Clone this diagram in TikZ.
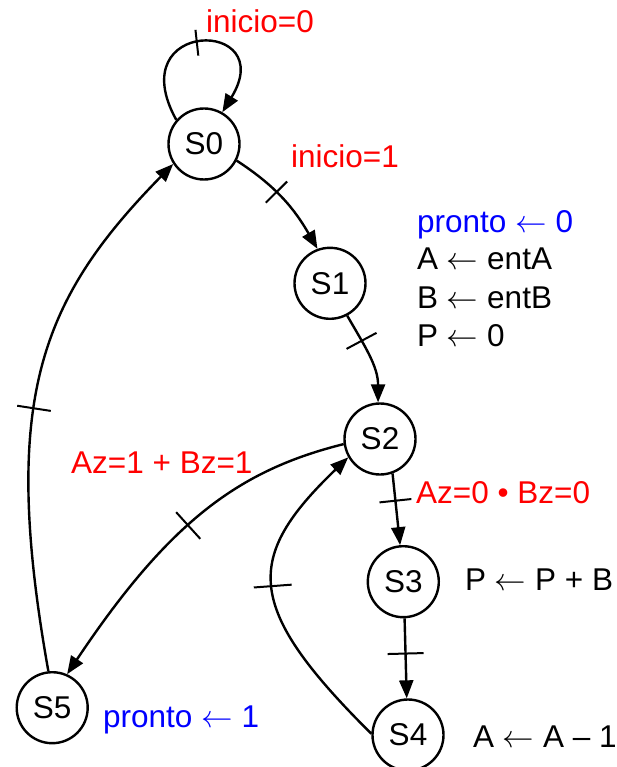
\RequirePackage{fix-cm}
\documentclass[tikz,border=0pt]{standalone}
\usepackage{fontspec}
\setmainfont{Liberation Sans}
\usetikzlibrary{arrows.meta,decorations.markings}
\definecolor{lred}{RGB}{255,0,0}
\definecolor{lblue}{RGB}{0,0,255}
\begin{document}
\begin{tikzpicture}[x=1pt,y=1pt,
  every node/.style={font=\fontsize{31.5}{37}\selectfont, inner sep=0pt},
  state/.style={circle,draw,line width=2.4pt,minimum size=71pt},
  arr/.style={line width=2.4pt,-{Triangle[length=18pt,width=14pt]}},
  crossbar/.style n args={2}{postaction={decorate,decoration={markings,
      mark=at position #1 with {\draw[-,line width=2pt] (0pt,-#2) -- (0pt,#2);}}}},
  redtxt/.style={text=lred,anchor=base west},
  bluetxt/.style={text=lblue,anchor=base west},
  blacktxt/.style={text=black,anchor=base west}]
\useasboundingbox (0,0) rectangle (617,-767);

% states
\node[state] (S0) at (204,-144) {S0};
\node[state] (S1) at (330,-283.3) {S1};
\node[state] (S2) at (380,-439) {S2};
\node[state] (S3) at (403.3,-581.7) {S3};
\node[state] (S4) at (408,-735) {S4};
\node[state] (S5) at (52.2,-707.7) {S5};

% transitions
\draw[arr,crossbar={0.5}{13pt}] (S0.139) .. controls (120,-18) and (280,-18) .. (S0.60);
\draw[arr,crossbar={0.42}{15pt}] (S0.-27) to[out=-33,in=120] (S1.110);
\draw[arr,crossbar={0.31}{17pt}] (S1.-62) to[out=-60,in=90] (S2.93);
\draw[arr,crossbar={0.38}{16pt}] (S2.-70) -- (S3.95);
\draw[arr,crossbar={0.44}{18pt}] (S3.-88) -- (S4.92);
\draw[arr,crossbar={0.54}{19pt}] (S4.178) .. controls (243.7,-607) and (243.7,-558) .. (S2.210);
\draw[arr,crossbar={0.48}{18pt}] (S2.188) .. controls (240,-470) and (170,-520) .. (S5.66);
\draw[arr,crossbar={0.48}{17pt}] (S5.96) .. controls (0,-400) and (40,-300) .. (S0.213);

% labels
\node[redtxt] (l0) at (206,-33) {inicio=0};
\node[redtxt] (l1) at (291,-168) {inicio=1};
\node[bluetxt] (a1) at (417,-232) {pronto $\leftarrow$ 0};
\node[blacktxt] (a2) at (417,-269.5) {A $\leftarrow$ entA};
\node[blacktxt] (a3) at (417,-308) {B $\leftarrow$ entB};
\node[blacktxt] (a4) at (417,-346.5) {P $\leftarrow$ 0};
\node[redtxt] (l2) at (416,-503) {Az=0 • Bz=0};
\node[blacktxt] (a5) at (465,-590) {P $\leftarrow$ P + B};
\node[blacktxt] (a6) at (473,-747) {A $\leftarrow$ A – 1};
\node[redtxt] (l3) at (71,-473) {Az=1 + Bz=1};
\node[bluetxt] (a7) at (103,-727) {pronto $\leftarrow$ 1};
\end{tikzpicture}
\end{document}
